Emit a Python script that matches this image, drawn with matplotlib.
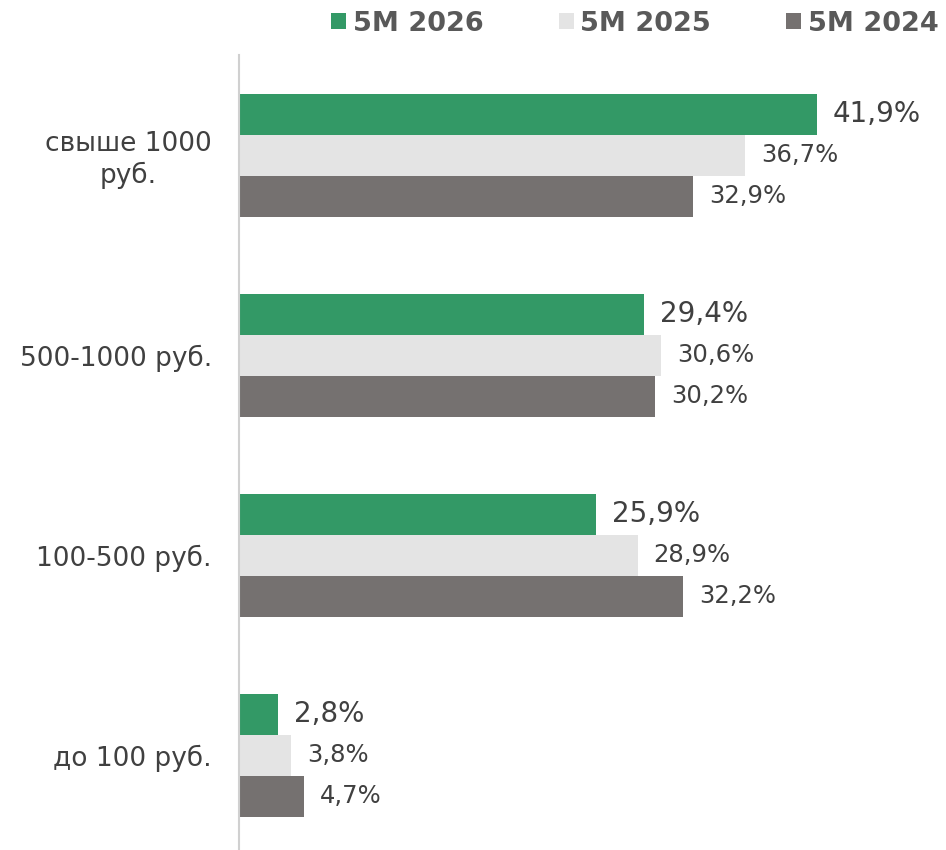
import matplotlib
matplotlib.use("Agg")
import matplotlib.pyplot as plt
import numpy as np

categories = ["свыше 1000\nруб.", "500-1000 руб.", "100-500 руб.", "до 100 руб."]
series_names = ["5M 2026", "5M 2025", "5M 2024"]
v2026 = [41.9, 29.4, 25.9, 2.8]
v2025 = [36.7, 30.6, 28.9, 3.8]
v2024 = [32.9, 30.2, 32.2, 4.7]

colors = ["#339966", "#E4E4E4", "#757170"]
text_color = "#404040"

plt.rcParams['font.family'] = ['DejaVu Sans']

fig = plt.figure(figsize=(9.46, 8.5), dpi=100)
ax = fig.add_axes([239/946, -5/850, (946-239)/946, 800/850])

y = np.arange(len(categories))
h = 0.205
values = [v2026, v2025, v2024]
offsets = [-h, 0, h]
label_sizes = [20, 17.5, 17.5]
for vals, off, col, name, fs in zip(values, offsets, colors, series_names, label_sizes):
    bars = ax.barh(y + off, vals, height=h, color=col, label=name, edgecolor='none')
    for b, v in zip(bars, vals):
        ax.annotate(f"{v:.1f}%".replace(".", ","), (v, b.get_y() + b.get_height()/2),
                    xytext=(16, 0), textcoords='offset pixels',
                    va='center', ha='left', fontsize=fs, color=text_color)

ax.set_xlim(0, (946-239)/13.79)
ax.set_ylim(3.5, -0.5)
ax.set_yticks(y)
ax.set_yticklabels(categories, fontsize=19, color=text_color, ha='right',
                   multialignment='center')
ax.tick_params(axis='y', length=0, pad=19.5)
ax.set_xticks([])
for s in ['top', 'right', 'bottom']:
    ax.spines[s].set_visible(False)
ax.spines['left'].set_color('#D0D0D0')
ax.spines['left'].set_linewidth(1.5)

leg = fig.legend(loc='upper right', bbox_to_anchor=(1.018, 1.016), ncol=3, frameon=False,
                 prop={'weight': 'bold', 'size': 19.5}, handlelength=0.55, handleheight=0.55,
                 handletextpad=0.25, columnspacing=2.77)
for t in leg.get_texts():
    t.set_color('#595959')

fig.savefig("out.png", dpi=100, facecolor='white')
